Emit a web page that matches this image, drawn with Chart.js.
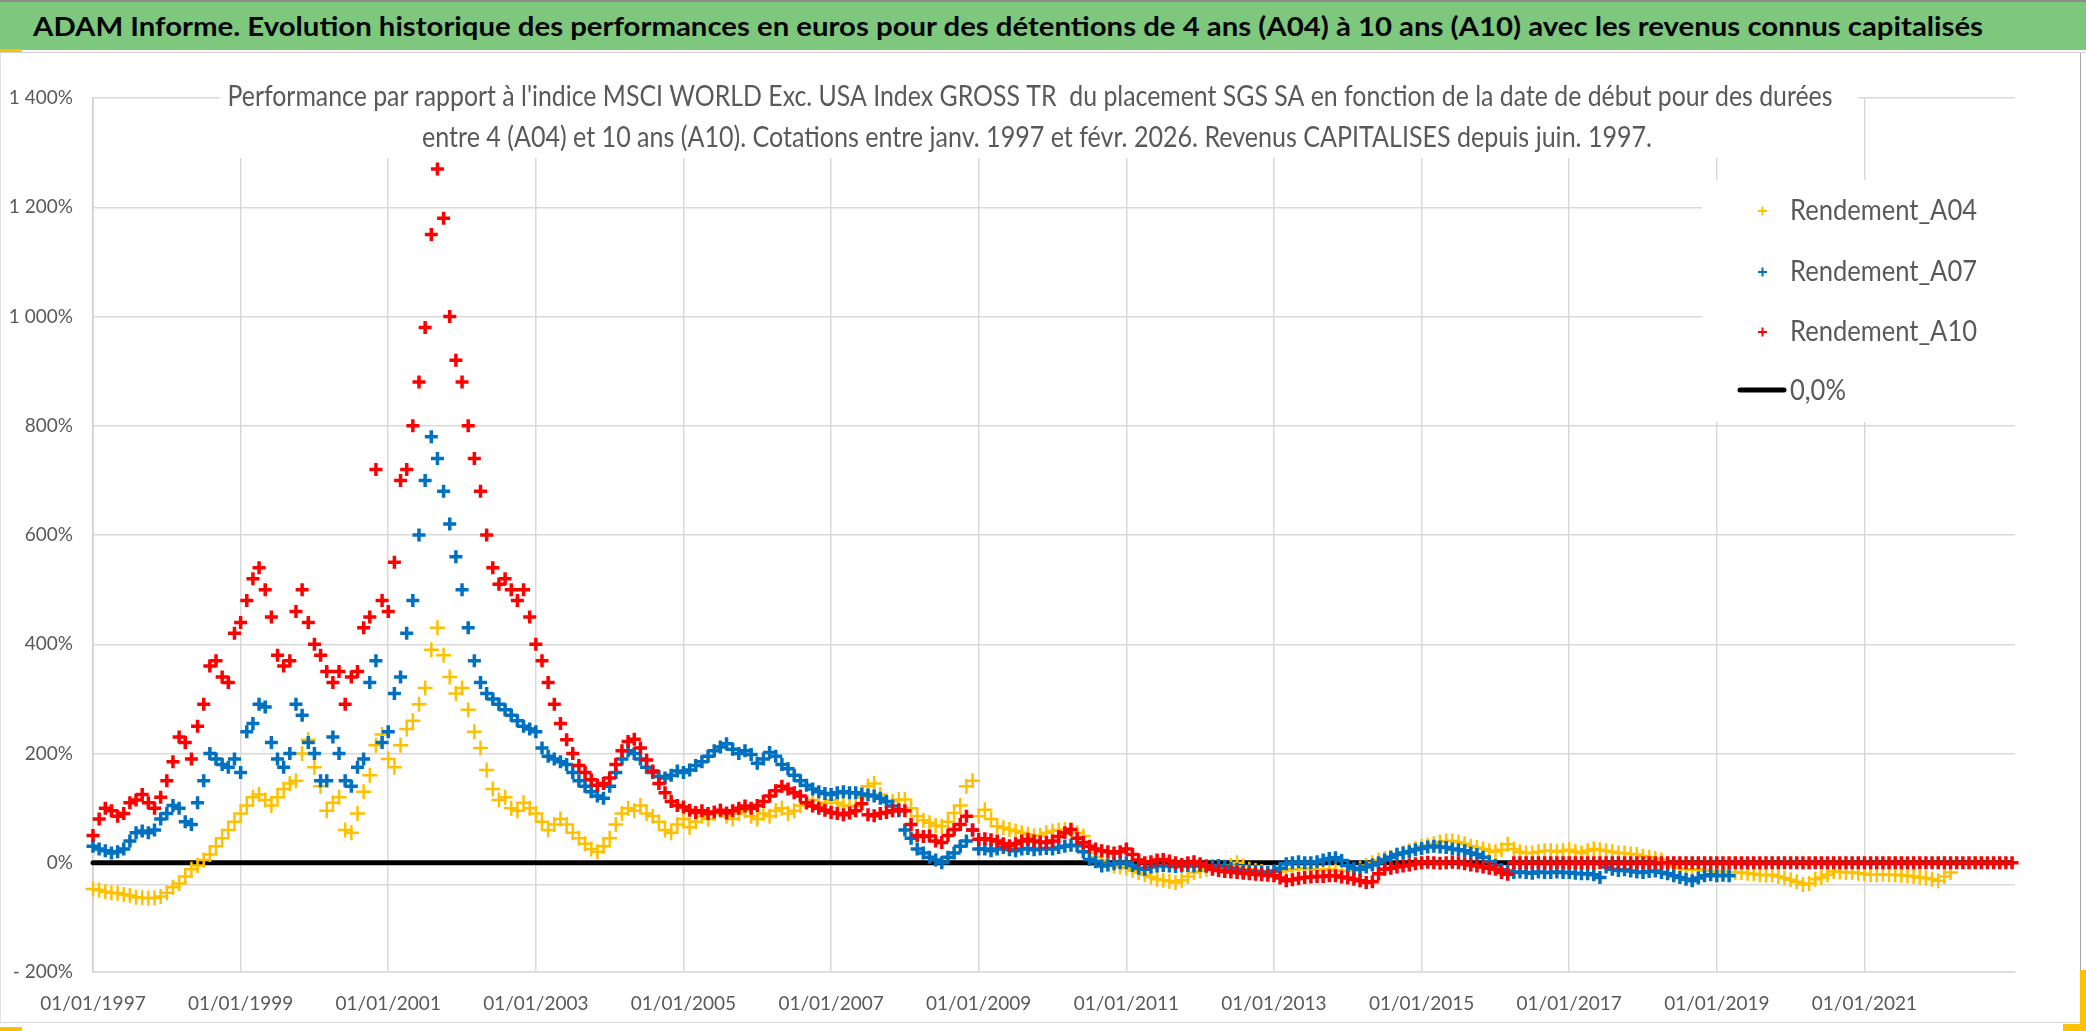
<!DOCTYPE html>
<html>
<head>
<meta charset="utf-8">
<script src="https://cdn.jsdelivr.net/npm/chart.js@4.4.1/dist/chart.umd.min.js"></script>
<style>
  html, body { margin: 0; padding: 0; background: #fff; }
  body { width: 2086px; height: 1031px; overflow: hidden; position: relative; font-family: Lato, sans-serif; }
  #header { position: absolute; left: 0; top: 0; width: 2086px; height: 50px; background: #7dc87d; border-top: 2px solid #8c8c8c; box-sizing: border-box; }
  #header span { position: absolute; left: 33px; top: 9px; font: bold 26px Lato, sans-serif; line-height: 31px; color: #050505; white-space: nowrap; transform-origin: 0 50%; }
  #sep { position: absolute; left: 0; top: 52px; width: 2086px; height: 1px; background: #d0d0d0; }
  #frame { position: absolute; left: 0; top: 53px; width: 2081px; height: 970px; border-left: 1px solid #e3e3e3; border-right: 1.5px solid #a6a6a6; border-bottom: 1px solid #d9d9d9; box-sizing: border-box; }
  #wrap { position: absolute; left: 0; top: 53px; width: 2086px; height: 978px; }
  .gold { position: absolute; background: #ffc000; }
</style>
</head>
<body>
<div id="header"><span id="headText">ADAM Informe. Evolution historique des performances en euros pour des détentions de 4 ans (A04) à 10 ans (A10) avec les revenus connus capitalisés</span></div>
<div id="sep"></div>
<div id="frame"></div>
<div class="gold" style="left:0;top:49px;width:22px;height:3px"></div>
<div class="gold" style="left:0;top:1027px;width:22px;height:4px"></div>
<div class="gold" style="left:2080px;top:970px;width:6px;height:61px"></div>
<div class="gold" style="left:2063px;top:1024px;width:23px;height:7px"></div>
<div id="wrap"><canvas id="chart"></canvas></div>

<script>
// one value per month, first value = January 1997
const START_YEAR = 1997;

const SUBTITLE = [
  "Performance par rapport à l'indice MSCI WORLD Exc. USA Index GROSS TR  du placement SGS SA en fonction de la date de début pour des durées",
  "entre 4 (A04) et 10 ans (A10). Cotations entre janv. 1997 et févr. 2026. Revenus CAPITALISES depuis juin. 1997."
];
const SERIES_NAMES = ["Rendement_A04", "Rendement_A07", "Rendement_A10", "0,0%"];
const SERIES_COLORS = ["#FFC000", "#0070C0", "#FF0000", "#000000"];

// Rendement_A04, Jan 1997 -> Mar 2022
const A04 = [
  -48, -50, -53, -55, -56, -58, -60, -63, -64, -65, -64, -62,
  -55, -45, -38, -25, -12, -5, 5, 15, 30, 45, 60, 75,
  90, 105, 120, 125, 115, 105, 120, 135, 145, 150, 200, 225,
  175, 140, 95, 110, 120, 60, 55, 90, 130, 160, 215, 235,
  190, 175, 215, 245, 260, 290, 320, 390, 430, 380, 340, 310,
  320, 280, 240, 210, 170, 135, 115, 120, 100, 95, 110, 100,
  90, 75, 60, 70, 80, 70, 55, 45, 35, 25, 20, 30,
  45, 70, 90, 100, 95, 105, 90, 85, 75, 60, 55, 70,
  80, 65, 75, 85, 80, 90, 95, 85, 80, 90, 95, 85,
  80, 90, 85, 95, 100, 90, 95, 105, 110, 115, 105, 110,
  115, 110, 105, 104, 104, 120, 140, 145, 125, 110, 112, 116,
  116, 100, 85, 78, 73, 68, 67, 75, 91, 105, 140, 150,
  85, 97, 80, 67, 64, 61, 58, 55, 52, 49, 50, 55,
  58, 60, 61, 61, 55, 49, 18, 10, 4, -2, -6, -8,
  -10, -14, -18, -22, -26, -30, -32, -34, -36, -32, -25, -18,
  -15, -12, -10, -9, -8, -5, 0, -6, -12, -14, -16, -18,
  -18, -16, -14, -12, -12, -10, -12, -12, -13, -12, -14, -15,
  -15, -14, -10, -5, 0, 5, 8, 10, 15, 18, 22, 26,
  30, 32, 35, 38, 40, 40, 38, 35, 30, 28, 25, 22,
  20, 24, 34, 25, 20, 18, 18, 20, 22, 22, 20, 22,
  24, 20, 18, 22, 25, 24, 22, 20, 18, 18, 16, 15,
  12, 10, 8, 5, -2, -7, -10, -12, -13, -12, -14, -15,
  -16, -15, -17, -18, -18, -19, -20, -22, -23, -22, -25, -28,
  -31, -35, -40, -38, -30, -27, -22, -16, -17, -18, -18, -19,
  -20, -22, -22, -21, -22, -22, -23, -24, -25, -27, -28, -30,
  -33, -25, -18
];

// Rendement_A07, Jan 1997 -> Mar 2019
const A07 = [
  30, 25, 22, 18, 20, 25, 40, 55, 58, 55, 60, 80,
  90, 105, 100, 75, 70, 110, 150, 200, 190, 180, 175, 190,
  165, 240, 255, 290, 285, 220, 190, 175, 200, 290, 270, 220,
  200, 150, 150, 230, 200, 150, 140, 175, 190, 330, 370, 220,
  240, 310, 340, 420, 480, 600, 700, 780, 740, 680, 620, 560,
  500, 430, 370, 330, 310, 300, 290, 280, 270, 260, 250, 245,
  240, 210, 195, 190, 185, 180, 165, 150, 140, 130, 122, 118,
  140, 165, 190, 205, 200, 190, 175, 165, 158, 155, 160, 168,
  165, 170, 178, 185, 195, 205, 212, 218, 208, 200, 205, 198,
  182, 190, 202, 195, 180, 172, 160, 150, 142, 135, 130, 127,
  125, 128, 130, 128, 128, 126, 124, 122, 118, 112, 104, 95,
  60, 45, 25, 18, 10, 5, 0, 10, 18, 30, 40, 60,
  25, 25, 22, 25, 28, 24, 22, 25, 26, 24, 25, 26,
  25, 28, 30, 32, 31, 20, 6, 2, -6, -4, -2, 0,
  0, -5, -10, -12, -8, -6, -5, -6, -7, -6, -5, -6,
  -5, -6, -6, -5, -7, -10, -12, -14, -15, -16, -17, -18,
  -15, -10, -2, 0, 2, 0, 0, 2, 5, 8, 9, 4,
  -5, -10, -12, -8, -4, 0, 5, 10, 15, 18, 20, 24,
  26, 29, 30, 29, 28, 25, 24, 22, 18, 15, 10, 2,
  -5, -13, -15, -18, -17, -18, -19, -17, -18, -18, -17, -18,
  -18, -19, -20, -20, -22, -27, -8, -12, -14, -13, -15, -17,
  -18, -16, -15, -18, -20, -24, -27, -30, -33, -28, -24, -22,
  -24, -23, -24
];

// Rendement_A10, Jan 1997 -> Jan 2023 (0 after Mar 2016)
const A10 = [
  50, 80, 100, 95, 85, 90, 110, 115, 125, 110, 100, 120,
  150, 185, 230, 220, 190, 250, 290, 360, 370, 340, 330, 420,
  440, 480, 520, 540, 500, 450, 380, 360, 370, 460, 500, 440,
  400, 380, 350, 330, 350, 290, 340, 350, 430, 450, 720, 480,
  460, 550, 700, 720, 800, 880, 980, 1150, 1270, 1180, 1000, 920,
  880, 800, 740, 680, 600, 540, 510, 520, 500, 480, 500, 450,
  400, 370, 330, 290, 255, 225, 200, 178, 165, 152, 142, 145,
  155, 180, 205, 222, 226, 210, 188, 168, 145, 128, 112, 105,
  102, 96, 92, 95, 90, 93, 96, 91, 95, 100, 104, 100,
  105, 112, 122, 132, 140, 135, 128, 122, 110, 104, 100, 96,
  92, 90, 88, 91, 95, 108, 88, 86, 90, 92, 95, 97,
  95, 70, 50, 48, 49, 40, 37, 50, 61, 70, 85, 60,
  43, 44, 42, 40, 35, 31, 35, 40, 43, 40, 38, 37,
  40, 48, 55, 61, 45, 37, 30, 25, 22, 20, 18, 20,
  25, 15, 5, 0, 2, 5, 6, 3, 0, -3, 0, 2,
  -2, -6, -12, -14, -16, -17, -18, -19, -20, -21, -22, -23,
  -24, -28, -33, -31, -29, -27, -26, -25, -25, -24, -24, -26,
  -28, -30, -33, -36, -35, -20, -12, -10, -8, -6, -4, -2,
  0, 1, 0, -1, 0, 1, 0, -2, -4, -6, -8, -10,
  -12, -18, -21, 0, 0, 0, 0, 0, 0, 0, 0, 0,
  0, 0, 0, 0, 0, 0, 0, 0, 0, 0, 0, 0,
  0, 0, 0, 0, 0, 0, 0, 0, 0, 0, 0, 0,
  0, 0, 0, 0, 0, 0, 0, 0, 0, 0, 0, 0,
  0, 0, 0, 0, 0, 0, 0, 0, 0, 0, 0, 0,
  0, 0, 0, 0, 0, 0, 0, 0, 0, 0, 0, 0,
  0, 0, 0, 0, 0, 0, 0, 0, 0, 0, 0, 0,
  0
];

// 0,0% reference line
const ZERO_YEARS = [1997, 2023];
const ZERO_VALUES = [0, 0];

const X_TICKS = [1997, 1999, 2001, 2003, 2005, 2007, 2009, 2011, 2013, 2015, 2017, 2019, 2021];
const X_MIN = 1997;
const X_MAX = 2023.04;
const Y_TICKS = [-200, 0, 200, 400, 600, 800, 1000, 1200, 1400];
const Y_EXTRA_LINE = -40; // stray grey line under the 0 line in the original

const monthPoints = values => values.map((v, i) => ({ x: START_YEAR + i / 12, y: v }));

function pctLabel(v) {
  if (v === Y_EXTRA_LINE) return "";
  const a = Math.abs(v);
  const s = a >= 1000 ? Math.floor(a / 1000) + " " + String(a % 1000).padStart(3, "0") : String(a);
  return (v < 0 ? "- " : "") + s + "%";
}

// fit header text to the width it has in the original
const head = document.getElementById("headText");
head.style.transform = "scaleX(" + (1950 / head.getBoundingClientRect().width) + ")";

const grey = "#595959";
const gridColor = "#d9d9d9";

// white boxes for the subtitle and the legend, drawn over the grid
const overlay = {
  id: "overlay",
  beforeDatasetsDraw(chart) {
    const ctx = chart.ctx;
    ctx.save();
    ctx.fillStyle = "#fff";
    ctx.fillRect(220, 6, 1638, 99);
    ctx.fillRect(1702, 127, 313, 242);

    ctx.fillStyle = grey;
    ctx.textAlign = "center";
    ctx.textBaseline = "alphabetic";
    ctx.font = "28px Lato";
    ctx.fillText(SUBTITLE[0], 1030, 53, 1605);
    ctx.fillText(SUBTITLE[1], 1037, 94, 1230);

    // legend
    ctx.font = "29px Lato";
    ctx.textAlign = "left";
    const k = 187 / ctx.measureText(SERIES_NAMES[0]).width;
    const rows = [167, 228, 288, 347];
    chart.data.datasets.forEach((ds, i) => {
      const y = rows[i];
      if (i < 3) {
        const cy = y - 9;
        ctx.strokeStyle = ds.borderColor;
        ctx.lineWidth = 2;
        ctx.beginPath();
        ctx.moveTo(1758, cy); ctx.lineTo(1767, cy);
        ctx.moveTo(1762.5, cy - 4.5); ctx.lineTo(1762.5, cy + 4.5);
        ctx.stroke();
      } else {
        ctx.strokeStyle = ds.borderColor;
        ctx.lineWidth = 5;
        ctx.lineCap = "round";
        ctx.beginPath();
        ctx.moveTo(1740, y - 10); ctx.lineTo(1784, y - 10);
        ctx.stroke();
      }
      ctx.fillStyle = grey;
      ctx.fillText(ds.label, 1790, y, ctx.measureText(ds.label).width * k);
    });
    ctx.restore();
  }
};

new Chart(document.getElementById("chart"), {
  type: "scatter",
  data: {
    datasets: [
      {
        label: SERIES_NAMES[0], data: monthPoints(A04),
        borderColor: SERIES_COLORS[0], backgroundColor: SERIES_COLORS[0],
        pointStyle: "cross", pointRadius: 7.5, pointBorderWidth: 2.5, order: 3, clip: 10
      },
      {
        label: SERIES_NAMES[1], data: monthPoints(A07),
        borderColor: SERIES_COLORS[1], backgroundColor: SERIES_COLORS[1],
        pointStyle: "cross", pointRadius: 6.5, pointBorderWidth: 3.5, order: 2, clip: 10
      },
      {
        label: SERIES_NAMES[2], data: monthPoints(A10),
        borderColor: SERIES_COLORS[2], backgroundColor: SERIES_COLORS[2],
        pointStyle: "cross", pointRadius: 6.5, pointBorderWidth: 3.5, order: 1, clip: 10
      },
      {
        label: SERIES_NAMES[3], data: ZERO_YEARS.map((x, i) => ({ x, y: ZERO_VALUES[i] })),
        borderColor: SERIES_COLORS[3], backgroundColor: SERIES_COLORS[3],
        showLine: true, borderWidth: 5, borderCapStyle: "round", pointRadius: 0, order: 4, clip: 10
      }
    ]
  },
  options: {
    responsive: true,
    maintainAspectRatio: false,
    animation: false,
    devicePixelRatio: 1,
    events: [],
    layout: { padding: { top: 45, right: 71, bottom: 0, left: 0 } },
    plugins: { legend: { display: false }, title: { display: false }, tooltip: { enabled: false } },
    scales: {
      x: {
        type: "linear", min: X_MIN, max: X_MAX,
        afterBuildTicks: s => { s.ticks = X_TICKS.map(v => ({ value: v })); },
        afterFit: s => { s.height = 59; },
        ticks: {
          autoSkip: false, maxRotation: 0, padding: 20, color: grey,
          font: { family: "Lato", size: 19 },
          callback: v => "01/01/" + v
        },
        grid: { color: gridColor, lineWidth: 1.5, drawTicks: false },
        border: { color: gridColor, width: 1.5 }
      },
      y: {
        min: -200, max: 1400,
        afterBuildTicks: s => { s.ticks = Y_TICKS.concat([Y_EXTRA_LINE]).sort((a, b) => a - b).map(v => ({ value: v })); },
        afterFit: s => { s.width = 93; },
        ticks: {
          autoSkip: false, padding: 20, color: grey,
          font: { family: "Lato", size: 19 },
          callback: v => pctLabel(v)
        },
        grid: { color: gridColor, lineWidth: 1.5, drawTicks: false },
        border: { color: "#cfcfcf", width: 1.5 }
      }
    }
  },
  plugins: [overlay]
});
</script>
</body>
</html>
